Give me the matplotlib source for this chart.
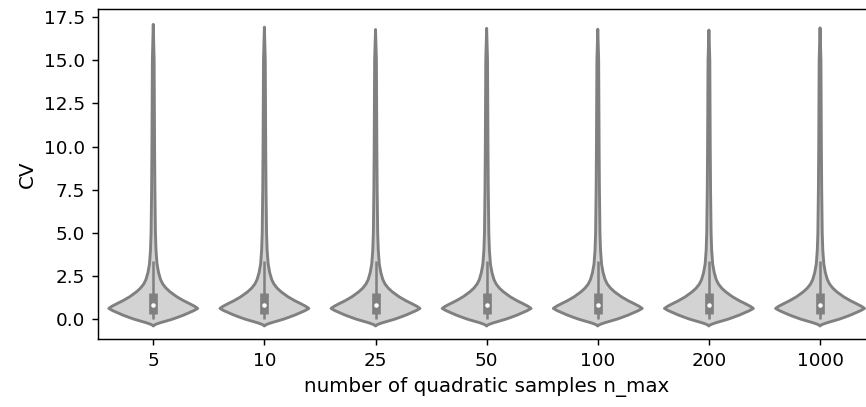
import numpy as np
import matplotlib
matplotlib.use("Agg")
import matplotlib.pyplot as plt


# values
categories = ["5", "10", "25", "50", "100", "200", "1000"]

# top end of each violin (max CV incl. kde tail)
cv_top = [17.08, 16.92, 16.78, 16.85, 16.80, 16.75, 16.88]
cv_bottom = -0.36

# inner box stats per category
q1 = [0.30, 0.30, 0.30, 0.30, 0.30, 0.30, 0.30]
median = [0.84, 0.84, 0.84, 0.84, 0.84, 0.84, 0.84]
q3 = [1.55, 1.55, 1.55, 1.55, 1.55, 1.55, 1.55]
whisk_lo = [0.0, 0.0, 0.0, 0.0, 0.0, 0.0, 0.0]
whisk_hi = [3.4, 3.4, 3.4, 3.4, 3.4, 3.4, 3.4]

# shared kde profile: CV level and relative density (1 = widest)
profile_cv = [-0.28, -0.2, -0.1, 0.0, 0.1, 0.25, 0.4, 0.5, 0.63, 0.75, 0.9,
              1.07, 1.3, 1.59, 1.8, 2.04, 2.3, 2.7, 3.2, 4.0, 5.0, 7.5,
              10.0, 13.0, 15.0]
profile_density = [0.067, 0.156, 0.289, 0.422, 0.533, 0.689, 0.822, 0.911,
                   1.0, 0.933, 0.822, 0.689, 0.533, 0.378, 0.289, 0.215,
                   0.165, 0.12, 0.085, 0.062, 0.049, 0.037, 0.03, 0.024,
                   0.02]


def draw_violin(ax, pos, top, lo, med, hi, wlo, whi, width=0.8):
    y = np.array([cv_bottom] + profile_cv + [top])
    d = np.array([0.0] + profile_density + [0.0]) * width / 2
    ax.fill_betweenx(y, pos - d, pos + d, facecolor="lightgray",
                     edgecolor="none", zorder=1)
    ax.plot(np.concatenate([pos - d, (pos + d)[::-1], [pos - d[0]]]),
            np.concatenate([y, y[::-1], [y[0]]]),
            color="gray", lw=1.6, solid_joinstyle="round", zorder=2)
    # inner box
    ax.plot([pos, pos], [wlo, whi], color="gray", lw=1.4, zorder=3,
            solid_capstyle="butt")
    ax.plot([pos, pos], [lo, hi], color="gray", lw=4.8, zorder=3,
            solid_capstyle="butt")
    ax.plot(pos, med, "o", color="white", ms=2.5, mew=0, zorder=4)


fig = plt.figure(figsize=(866 / 130, 407 / 130), dpi=130)
ax = fig.add_axes([0.1128, 0.1671, 0.8983, 0.8108])

for i, cat in enumerate(categories):
    draw_violin(ax, i, cv_top[i], q1[i], median[i], q3[i],
                whisk_lo[i], whisk_hi[i])

ax.set_xlim(-0.5, len(categories) - 0.5)
ax.set_ylim(-1.14, 17.97)
ax.set_xticks(range(len(categories)))
ax.set_xticklabels(categories)
ax.set_yticks(np.arange(0, 17.6, 2.5))
ax.tick_params(labelsize=10.2)

ax.set_xlabel("number of quadratic samples n_max", fontsize=11)
ax.set_ylabel("CV", fontsize=11)

fig.savefig("out.png", dpi=130)
